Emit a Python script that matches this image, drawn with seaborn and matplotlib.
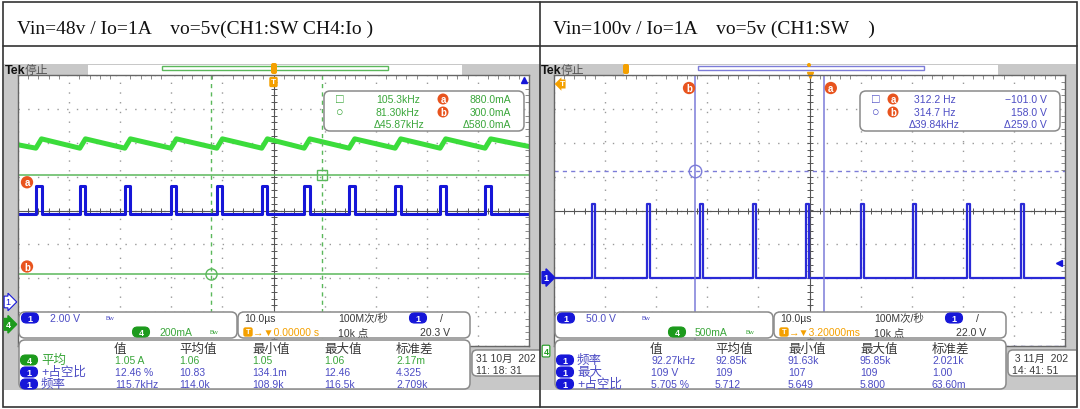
import numpy as np
import pandas as pd
import seaborn as sns
import matplotlib.pyplot as plt
from matplotlib.patches import Rectangle, FancyBboxPatch, Circle
from matplotlib.ticker import MultipleLocator

# ---- values (10 us/div, 10 x 8 div screen) ----
titles = ["Vin=48v / Io=1A    vo=5v(CH1:SW CH4:Io )",
          "Vin=100v / Io=1A    vo=5v (CH1:SW    )"]

# Vin = 48 V shot
sw48_rise_us = [-46.5, -37.9, -29.1, -20.1, -11.1, -2.3, 6.0, 14.8, 23.8, 32.6, 41.4]
sw48_on_us = 1.1
sw48_level_div = [-0.1, 0.72]            # low, high
ch1_48_zero_div = -2.7
ch1_48_v_div = 2.0
trig48_v = 20.3
io48_ma = [1060, 1040, 1095, 1050]       # start, valley, peak, end
ch4_48_ma_div = 200
ch4_48_zero_div = -3.36
cur48_t_us = [9.5, -12.3]                # cursor a, b
cur48_ma = [880.0, 300.0]

# Vin = 100 V shot
sw100_rise_us = [-42.6, -31.8, -21.4, -11.1, -0.7, 10.1, 20.3, 30.8, 41.4]
sw100_on_us = 0.62
sw100_level_v = [0.0, 109.0]
ch1_100_v_div = 50.0
ch1_100_zero_div = -1.98
ch4_100_zero_div = -4.15
trig100_v = 22.0
cur100_t_us = [2.8, -22.4]
cur100_v = [-101.0, 158.0]

# readouts
cur48_text = [["105.3kHz", "81.30kHz", "Δ45.87kHz"], ["880.0mA", "300.0mA", "Δ580.0mA"]]
cur100_text = [["312.2 Hz", "314.7 Hz", "Δ39.84kHz"], ["\u2212101.0 V", "158.0 V", "Δ259.0 V"]]
chan48 = ["2.00 V", "200mA"]
chan100 = ["50.0 V", "500mA"]
time48 = ["10.0µs", "100M次/秒", "20.3 V", "→▼0.00000 s", "10k 点"]
time100 = ["10.0µs", "100M次/秒", "22.0 V", "→▼3.20000ms", "10k 点"]
meas_header = ["值", "平均值", "最小值", "最大值", "标准差"]
meas48_rows = [("4", "平均"), ("1", "+占空比"), ("1", "频率")]
meas48_vals = [["1.05 A", "1.06", "1.05", "1.06", "2.17m"],
               ["12.46 %", "10.83", "134.1m", "12.46", "4.325"],
               ["115.7kHz", "114.0k", "108.9k", "116.5k", "2.709k"]]
meas100_rows = [("1", "频率"), ("1", "最大"), ("1", "+占空比")]
meas100_vals = [["92.27kHz", "92.85k", "91.63k", "95.85k", "2.021k"],
                ["109 V", "109", "107", "109", "1.00"],
                ["5.705 %", "5.712", "5.649", "5.800", "63.60m"]]
date48 = ["31 10月  202", "11: 18: 31"]
date100 = [" 3 11月  202", "14: 41: 51"]

sns.set_theme(style="white")
plt.rcParams['font.family'] = ['Liberation Sans', 'Noto Sans CJK SC', 'DejaVu Sans']

BLUE = '#1616d8'
BLUE_TXT = '#4c4cc4'
GREEN = '#3bdc3b'
GREEN_TXT = '#3aa63a'
CUR_GREEN = '#5bb85b'
CUR_BLUE = '#7c7cd8'
ORANGE = '#f4a000'
BADGE = '#e8541e'
GRAY = '#c8c8c8'
DARK = '#3a3a3a'

W, H = 1080, 410
fig = plt.figure(figsize=(W / 100, H / 100), dpi=100)
bg = fig.add_axes([0, 0, 1, 1], zorder=0)
bg.set_xlim(0, W)
bg.set_ylim(H, 0)
bg.axis('off')


def square_wave(rises_us, on_us, lo, hi):
    t, v = [-5.0], [lo]
    for r in rises_us:
        t += [r / 10, r / 10, (r + on_us) / 10, (r + on_us) / 10]
        v += [lo, hi, hi, lo]
    t.append(5.0)
    v.append(lo)
    return pd.DataFrame({'t': t, 'v': v})


def ripple(rises_us, on_us, start, valley, peak, end):
    t, v = [-5.0], [start]
    for r in rises_us:
        t += [r / 10, (r + on_us) / 10]
        v += [valley, peak]
    t.append(5.0)
    v.append(end)
    return pd.DataFrame({'t': t, 'v': v})


def pill(ax, x, y, label, color, w=17, h=10, filled=True):
    ax.add_patch(FancyBboxPatch((x - w / 2, y - h / 2), w, h,
                                boxstyle=f'round,pad=0,rounding_size={h / 2}',
                                fc=color if filled else 'white', ec=color, lw=0.8))
    ax.text(x, y + 0.3, label, color='white' if filled else color, fontsize=6.5,
            fontweight='bold', ha='center', va='center')


def badge(ax, x, y, label):
    ax.add_patch(Circle((x, y), 5.5, fc=BADGE, ec='none'))
    ax.text(x, y - 0.3, label, color='white', fontsize=7, fontweight='bold',
            ha='center', va='center')


def rbox(ax, x0, y0, x1, y1, r=6):
    ax.add_patch(FancyBboxPatch((x0, y0), x1 - x0, y1 - y0,
                                boxstyle=f'round,pad=0,rounding_size={r}',
                                fc='white', ec='#8a8a8a', lw=1.1))


def screen(off):
    ax = fig.add_axes([(18 + off) / W, (H - 347) / H, 511 / W, 271 / H], zorder=1)
    ax.set_facecolor('white')
    ax.set_xticks(range(-5, 6))
    ax.set_yticks(range(-4, 5))
    ax.xaxis.set_minor_locator(MultipleLocator(0.2))
    ax.yaxis.set_minor_locator(MultipleLocator(0.2))
    ax.tick_params(which='both', direction='in', top=True, right=True,
                   labelbottom=False, labelleft=False, color='#777')
    ax.tick_params(which='major', length=0)
    ax.tick_params(which='minor', length=3, width=0.6)
    ax.grid(True, which='major', color='#9a9a9a', linestyle=(0, (1, 6)), lw=1)
    for s in ax.spines.values():
        s.set_color('#666')
        s.set_linewidth(1)
    ax.axhline(0, color='#555', lw=0.8, zorder=1)
    ax.axvline(0, color='#555', lw=0.8, zorder=1)
    fine_x = np.arange(-5, 5.01, 0.2)
    fine_y = np.arange(-4, 4.01, 0.2)
    ax.plot(fine_x, np.zeros_like(fine_x), ls='none', marker='|', ms=4, mew=0.7, color='#555')
    ax.plot(np.zeros_like(fine_y), fine_y, ls='none', marker='_', ms=4, mew=0.7, color='#555')
    return ax


def overlay(off, z):
    ov = fig.add_axes([(4 + off) / W, 0, 536 / W, 1], zorder=z)
    ov.set_xlim(4, 540)
    ov.set_ylim(H, 0)
    ov.axis('off')
    return ov


def shell(ov, rec_color):
    ov.add_patch(Rectangle((4, 65), 536, 326, fc=GRAY, ec='none', zorder=0))
    ov.add_patch(Rectangle((88, 65.5), 374, 10, fc='white', ec='none'))
    ov.add_patch(Rectangle((162, 67), 226, 4, fill=False, ec=rec_color, lw=1))
    ov.text(5, 71, "Tek", fontsize=9, fontweight='bold', color='#111', va='center')
    ov.text(25, 71, "停止", fontsize=8.5, color='#555', va='center')


def info(ov, chan, timebase, rows, vals, date, row_colors):
    rbox(ov, 19, 313, 237, 339)
    rbox(ov, 238, 313, 470, 339)
    rbox(ov, 19, 341, 470, 390)
    rbox(ov, 472, 351, 548, 377, r=5)
    pill(ov, 30, 319, "1", BLUE)
    ov.text(50, 319, chan[0], color=BLUE_TXT, fontsize=7.5, va='center')
    ov.text(106, 319, "Bw", color=BLUE_TXT, fontsize=4.5, va='center')
    pill(ov, 141, 333, "4", '#1c9a1c')
    ov.text(159, 333, chan[1], color=GREEN_TXT, fontsize=7.5, va='center')
    ov.text(209, 333, "Bw", color=GREEN_TXT, fontsize=4.5, va='center')
    ov.text(244, 319, timebase[0], color=DARK, fontsize=7.5, va='center')
    ov.text(338, 319, timebase[1], color=DARK, fontsize=7.5, va='center')
    pill(ov, 418, 319, "1", BLUE)
    ov.text(440, 319, "/", color=DARK, fontsize=7.5, va='center')
    ov.text(420, 333, timebase[2], color=DARK, fontsize=7.5, va='center')
    ov.add_patch(FancyBboxPatch((244, 329), 8, 8, boxstyle='round,pad=0,rounding_size=1.5',
                                fc=ORANGE, ec=ORANGE))
    ov.text(248, 333, "T", color='white', fontsize=5.5, fontweight='bold', ha='center', va='center')
    ov.text(253, 333, timebase[3], color=ORANGE, fontsize=7.5, va='center')
    ov.text(338, 333, timebase[4], color=DARK, fontsize=7.5, va='center')
    for x, h in zip([114, 179, 252, 324, 396], meas_header):
        ov.text(x, 350, h, color=DARK, fontsize=9, va='center')
    for i, ((ch, name), row) in enumerate(zip(rows, vals)):
        y = 361 + 12 * i
        col = row_colors[i]
        pill(ov, 29, y, ch, '#1c9a1c' if ch == "4" else BLUE)
        ov.text(41, y, name, color=col, fontsize=9, va='center')
        for x, v in zip([115, 179, 252, 324, 396], row):
            ov.text(x, y, v, color=col, fontsize=7.5, va='center')
    ov.text(476, 359, date[0], color=DARK, fontsize=7.5, va='center')
    ov.text(476, 371, date[1], color=DARK, fontsize=7.5, va='center')


def readout(ov, text, color, badges_left):
    rbox(ov, 324, 92, 524, 132)
    ov.text(336, 100, "□", color=color, fontsize=9, va='center')
    ov.text(336, 113, "○", color=color, fontsize=9, va='center')
    bx = 357 if badges_left else 443
    badge(ov, bx, 100, "a")
    badge(ov, bx, 113, "b")
    for j, y in enumerate([100, 113, 125]):
        ov.text(420 if j < 2 else 424, y, text[0][j], color=color, fontsize=7.5, ha='right', va='center')
        ov.text(511, y, text[1][j], color=color, fontsize=7.5, ha='right', va='center')


# ---------------- frame ----------------
bg.add_patch(Rectangle((3, 3), 1074, 405, fill=False, ec='#333', lw=1.2))
bg.plot([3, 1077], [47, 47], color='#333', lw=1.2)
for off, t in zip([0, 536], titles):
    bg.text(17 + off, 34, t, family='Liberation Serif', fontsize=14, color='#111', va='baseline')

# ---------------- 48 V shot ----------------
shell(overlay(0, 0.5), CUR_GREEN)
axL = screen(0)

io_df = ripple(sw48_rise_us, sw48_on_us, *io48_ma)
io_df['v'] = io_df['v'] / ch4_48_ma_div + ch4_48_zero_div
sns.lineplot(data=io_df, x='t', y='v', estimator=None, sort=False, color=GREEN, lw=3.6, ax=axL)
sw_df = square_wave(sw48_rise_us, sw48_on_us, *sw48_level_div)
sns.lineplot(data=sw_df, x='t', y='v', estimator=None, sort=False, color=BLUE, lw=2.2, ax=axL)

cur_div = [c / ch4_48_ma_div + ch4_48_zero_div for c in cur48_ma]
cur_x = [c / 10 for c in cur48_t_us]
for yv in cur_div:
    axL.axhline(yv, color=CUR_GREEN, lw=1.1)
for xv in cur_x:
    axL.axvline(xv, color=CUR_GREEN, lw=1, ls=(0, (3, 3)))
axL.plot(cur_x[0], cur_div[0], marker='s', mfc='none', mec=CUR_GREEN, ms=7)
axL.plot(cur_x[1], cur_div[1], marker='o', mfc='none', mec=CUR_GREEN, ms=8)
for lbl, yv, dy in zip("ab", cur_div, [-7, 7]):
    axL.annotate(lbl, xy=(-5, yv), xytext=(9, dy), textcoords='offset pixels', color='white',
                 fontsize=7, fontweight='bold', ha='center', va='center',
                 bbox=dict(boxstyle='circle,pad=0.12', fc=BADGE, ec='none'))
axL.annotate("T", xy=(0, 4), xytext=(0, -7), textcoords='offset pixels', color='white', fontsize=6,
             fontweight='bold', ha='center', va='center', annotation_clip=False,
             bbox=dict(boxstyle='round,pad=0.2', fc=ORANGE, ec='none'))
axL.annotate("1", xy=(-5, ch1_48_zero_div), xytext=(-10, 0), textcoords='offset pixels', color=BLUE,
             fontsize=6.5, ha='center', va='center', annotation_clip=False,
             bbox=dict(boxstyle='rarrow,pad=0.15', fc='white', ec=BLUE, lw=0.8))
axL.annotate("4", xy=(-5, ch4_48_zero_div), xytext=(-10, 0), textcoords='offset pixels', color='white',
             fontsize=6.5, fontweight='bold', ha='center', va='center', annotation_clip=False,
             bbox=dict(boxstyle='rarrow,pad=0.15', fc='#1c9a1c', ec='#1c9a1c'))
trig_div = min(trig48_v / ch1_48_v_div + ch1_48_zero_div, 3.85)
axL.plot(4.9, trig_div, marker='^', color=BLUE, ms=5, clip_on=False)
axL.set_xlim(-5, 5)
axL.set_ylim(-4, 4)
axL.set_xlabel('')
axL.set_ylabel('')

ovL = overlay(0, 3)
ovL.add_patch(FancyBboxPatch((271, 64), 6, 11, boxstyle='round,pad=0,rounding_size=2', fc=ORANGE, ec='none'))
readout(ovL, cur48_text, GREEN_TXT, badges_left=False)
info(ovL, chan48, time48, meas48_rows, meas48_vals, date48, [GREEN_TXT, BLUE_TXT, BLUE_TXT])

# ---------------- 100 V shot ----------------
shell(overlay(536, 0.5), CUR_BLUE)
axR = screen(536)

sw_df = square_wave(sw100_rise_us, sw100_on_us,
                    *[v / ch1_100_v_div + ch1_100_zero_div for v in sw100_level_v])
sns.lineplot(data=sw_df, x='t', y='v', estimator=None, sort=False, color='#2a2ad6', lw=1.6, ax=axR)

cur_div = [v / ch1_100_v_div + ch1_100_zero_div for v in cur100_v]
cur_x = [c / 10 for c in cur100_t_us]
for yv in cur_div:
    axR.axhline(yv, color=CUR_BLUE, lw=1, ls=(0, (3, 3)))
for xv in cur_x:
    axR.axvline(xv, color=CUR_BLUE, lw=1.1)
axR.plot(cur_x[1], cur_div[1], marker='o', mfc='none', mec=CUR_BLUE, ms=9)
axR.plot(cur_x[0], cur_div[0], marker='s', mfc='none', mec=CUR_BLUE, ms=7)
for lbl, xv, dx in zip("ab", cur_x, [7, -6]):
    axR.annotate(lbl, xy=(xv, 4), xytext=(dx, -13), textcoords='offset pixels', color='white',
                 fontsize=7, fontweight='bold', ha='center', va='center',
                 bbox=dict(boxstyle='circle,pad=0.12', fc=BADGE, ec='none'))
axR.annotate("T", xy=(-5, 4), xytext=(8, -9), textcoords='offset pixels', color='white', fontsize=6,
             fontweight='bold', ha='center', va='center', annotation_clip=False,
             bbox=dict(boxstyle='larrow,pad=0.12', fc=ORANGE, ec='none'))
axR.plot(0, 4, marker='v', color=ORANGE, ms=5, clip_on=False)
axR.annotate("1", xy=(-5, ch1_100_zero_div), xytext=(-8, 0), textcoords='offset pixels', color='white',
             fontsize=6.5, fontweight='bold', ha='center', va='center', annotation_clip=False,
             bbox=dict(boxstyle='rarrow,pad=0.15', fc=BLUE, ec=BLUE))
axR.annotate("4", xy=(-5, ch4_100_zero_div), xytext=(-8, 0), textcoords='offset pixels', color='#1c9a1c',
             fontsize=6.5, fontweight='bold', ha='center', va='center', annotation_clip=False,
             bbox=dict(boxstyle='round,pad=0.15', fc='white', ec='#1c9a1c', lw=0.8))
axR.plot(4.88, trig100_v / ch1_100_v_div + ch1_100_zero_div, marker='<', color=BLUE, ms=5)
axR.set_xlim(-5, 5)
axR.set_ylim(-4, 4)
axR.set_xlabel('')
axR.set_ylabel('')

ovR = overlay(536, 3)
ovR.add_patch(FancyBboxPatch((87, 65), 6, 10, boxstyle='round,pad=0,rounding_size=2', fc=ORANGE, ec='none'))
ovR.add_patch(Circle((273, 66), 2, fc=ORANGE, ec='none'))
readout(ovR, cur100_text, BLUE_TXT, badges_left=True)
info(ovR, chan100, time100, meas100_rows, meas100_vals, date100, [BLUE_TXT, BLUE_TXT, BLUE_TXT])

top = fig.add_axes([0, 0, 1, 1], zorder=4)
top.set_xlim(0, W)
top.set_ylim(H, 0)
top.axis('off')
top.plot([540, 540], [3, 408], color='#333', lw=1.2)

fig.savefig('out.png', dpi=100)
plt.close(fig)
